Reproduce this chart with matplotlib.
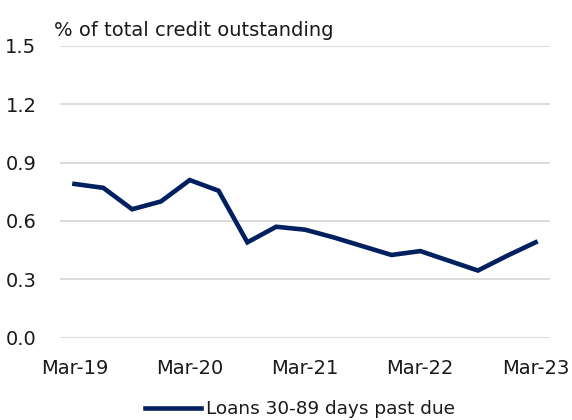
import matplotlib
matplotlib.use("Agg")
import matplotlib.pyplot as plt

# quarterly, Mar-19 .. Mar-23
quarters = ["Mar-19", "Jun-19", "Sep-19", "Dec-19",
            "Mar-20", "Jun-20", "Sep-20", "Dec-20",
            "Mar-21", "Jun-21", "Sep-21", "Dec-21",
            "Mar-22", "Jun-22", "Sep-22", "Dec-22",
            "Mar-23"]
past_due = [0.79, 0.77, 0.66, 0.70,
            0.81, 0.755, 0.49, 0.57,
            0.555, 0.515, 0.47, 0.425,
            0.445, 0.395, 0.345, 0.42,
            0.49]
yticks = [0.0, 0.3, 0.6, 0.9, 1.2, 1.5]
series_name = "Loans 30-89 days past due"
unit_label = "% of total credit outstanding"

plt.rcParams['font.family'] = ['DejaVu Sans']
navy = "#002060"
txt = "#1a1a1a"
fs = 14

fig = plt.figure(figsize=(5.72, 4.2), dpi=100)
ax = fig.add_axes([0.105, 0.196, 0.8565, 0.695])

x = range(len(quarters))
ax.plot(x, past_due, color=navy, lw=3.3, solid_joinstyle='miter',
        label=series_name)

ax.set_xlim(-0.5, len(quarters) - 0.5)
ax.set_ylim(0, 1.5)
ax.set_yticks(yticks)
ax.set_yticklabels([f"{v:.1f}" for v in yticks])
ax.set_xticks(list(x)[::4])
ax.set_xticklabels(quarters[::4])

ax.grid(axis='y', color='#d9d9d9', lw=1.3)
ax.set_axisbelow(True)
for s in ax.spines.values():
    s.set_visible(False)
ax.tick_params(axis='both', length=0, labelsize=fs, colors=txt)
ax.tick_params(axis='y', pad=17)
ax.tick_params(axis='x', pad=15)

fig.text(54 / 572, 1 - 36 / 420, unit_label, fontsize=fs, color=txt,
         ha='left', va='baseline')

leg = fig.legend(loc='center', bbox_to_anchor=(300 / 572, 1 - 409 / 420),
                 frameon=False, fontsize=13.3, handlelength=3.0,
                 handletextpad=0.25, borderaxespad=0)
for t in leg.get_texts():
    t.set_color(txt)

fig.savefig("out.png", dpi=100)
